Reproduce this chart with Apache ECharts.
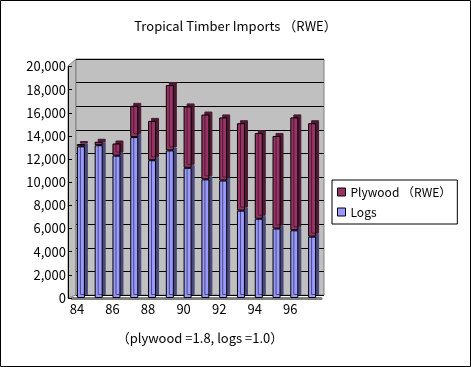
<!DOCTYPE html>
<html>
<head>
<meta charset="utf-8">
<script src="https://cdn.jsdelivr.net/npm/echarts@6/dist/echarts.min.js"></script>
<style>
html,body{margin:0;padding:0;background:#fff;}
#main{width:471px;height:367px;}
</style>
</head>
<body>
<div id="main"></div>
<script>
var years = ['84','85','86','87','88','89','90','91','92','93','94','95','96','97'];
var logs = [13100, 13200, 12300, 13900, 11900, 12750, 11250, 10250, 10150, 7550, 6850, 6000, 5850, 5300];
var plywood = [200, 300, 1050, 2700, 3400, 5650, 5300, 5600, 5450, 7550, 7400, 8000, 9750, 9800];
var yTicks = {min: 0, max: 20000, interval: 2000};
var titleText = 'Tropical Timber Imports （RWE）';
var noteText = '（plywood =1.8, logs =1.0）';
var seriesNames = ['Plywood （RWE）', 'Logs'];

var FONT = '"Noto Sans CJK JP", "Noto Sans", sans-serif';
var chart = echarts.init(document.getElementById('main'), null, {renderer: 'canvas'});

function fmt(v){ return v.toString().replace(/\B(?=(\d{3})+(?!\d))/g, ','); }

var option = {
  backgroundColor: '#ffffff',
  animation: false,
  textStyle: {fontFamily: FONT, color: '#000'},
  title: [
    {text: titleText, left: 'center', top: 15,
     textStyle: {fontFamily: FONT, fontSize: 13, fontWeight: 'normal', color: '#000'}},
    {text: noteText, left: 195, textAlign: 'center', top: 327,
     textStyle: {fontFamily: FONT, fontSize: 13, fontWeight: 'normal', color: '#000'}}
  ],
  legend: {
    orient: 'vertical', left: 332, top: 180,
    padding: [6, 6, 6, 5],
    itemWidth: 8, itemHeight: 8, itemGap: 8,
    borderColor: '#000', borderWidth: 1, backgroundColor: '#fff',
    data: seriesNames.map(function(n){ return {name: n, icon: 'rect'}; }),
    itemStyle: {borderColor: '#000', borderWidth: 1},
    textStyle: {fontFamily: FONT, fontSize: 12, color: '#000', lineHeight: 12}
  },
  grid: [
    {left: 76, right: 147, top: 59, bottom: 72, show: true,
     backgroundColor: '#C0C0C0', borderColor: '#808080', borderWidth: 1},
    {left: 72, right: 150, top: 66.5, bottom: 69}
  ],
  xAxis: [
    {type: 'category', gridIndex: 0, data: years, show: false},
    {type: 'category', gridIndex: 1, data: years,
     axisLine: {lineStyle: {color: '#808080', width: 3}},
     axisTick: {show: false},
     axisLabel: {interval: 1, margin: 5, fontSize: 13, color: '#000', fontFamily: FONT, padding: [0, 8, 0, 0]}}
  ],
  yAxis: [
    {type: 'value', gridIndex: 0, min: yTicks.min, max: yTicks.max, interval: yTicks.interval,
     axisLabel: {show: false}, axisLine: {show: false}, axisTick: {show: false},
     splitLine: {show: true, lineStyle: {color: '#000', width: 1}}},
    {type: 'value', gridIndex: 1, min: yTicks.min, max: yTicks.max, interval: yTicks.interval,
     offset: 4,
     axisLabel: {margin: 2, fontSize: 13, color: '#000', fontFamily: FONT, formatter: fmt},
     axisLine: {show: true, lineStyle: {color: '#000', width: 1}},
     axisTick: {show: true, inside: true, length: 4, lineStyle: {color: '#000'}},
     splitLine: {show: false}}
  ],
  graphic: [
    {type: 'polygon', z: -1, shape: {points: [[68, 66], [76, 59], [76, 295], [68, 298]]},
     style: {fill: '#C0C0C0', stroke: '#808080', lineWidth: 1}},
    {type: 'rect', z: 100, shape: {x: 0.5, y: 0.5, width: 470, height: 366},
     style: {fill: 'none', stroke: '#000', lineWidth: 1}}
  ],
  series: [
    {name: 'Logs', type: 'bar', stack: 'total', xAxisIndex: 1, yAxisIndex: 1,
     data: logs, barWidth: 8,
     itemStyle: {color: '#9999FF', borderColor: '#000', borderWidth: 1,
       shadowColor: '#4a4a7a', shadowOffsetX: 3, shadowOffsetY: -3, shadowBlur: 0}},
    {name: 'Plywood （RWE）', type: 'bar', stack: 'total', xAxisIndex: 1, yAxisIndex: 1,
     data: plywood, barWidth: 8,
     itemStyle: {color: '#993366', borderColor: '#000', borderWidth: 1,
       shadowColor: '#4d1a33', shadowOffsetX: 3, shadowOffsetY: -3, shadowBlur: 0}}
  ]
};
chart.setOption(option);
</script>
</body>
</html>
